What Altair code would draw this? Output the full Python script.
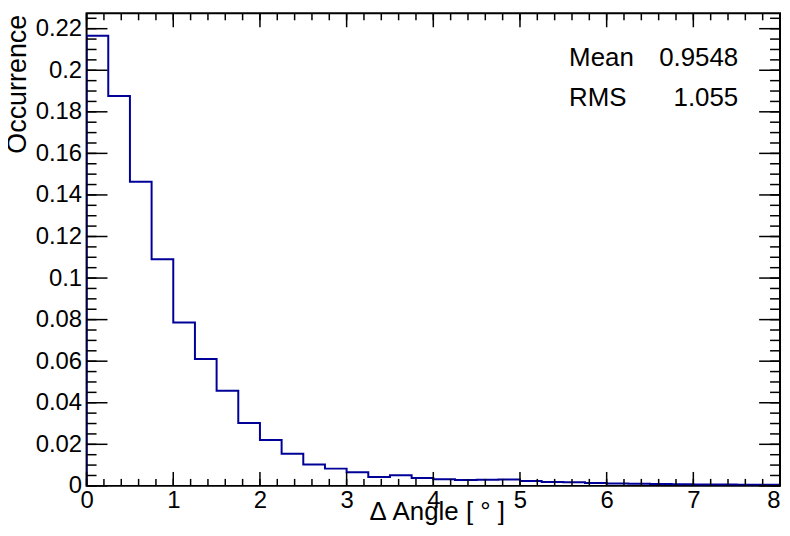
import altair as alt
import pandas as pd

# ---- data ----
bin_width = 0.25
bin_edges = [i * bin_width for i in range(33)]
bin_values = [0.2166, 0.1876, 0.1463, 0.1091, 0.0786, 0.0611, 0.0458, 0.0302,
              0.0221, 0.0155, 0.0103, 0.0083, 0.0066, 0.0043, 0.0051, 0.0038,
              0.0032, 0.0028, 0.0030, 0.0031, 0.0023, 0.0019, 0.0018, 0.0014,
              0.0011, 0.0010, 0.0009, 0.0008, 0.0007, 0.0007, 0.0006, 0.0006]
x_ticks_major = [0, 1, 2, 3, 4, 5, 6, 7, 8]
x_ticks_minor = [round(i * 0.2, 3) for i in range(41)]
y_ticks_major = [0, 0.02, 0.04, 0.06, 0.08, 0.1, 0.12, 0.14, 0.16, 0.18, 0.2, 0.22]
y_ticks_minor = [round(i * 0.005, 4) for i in range(46)]
stat_names = ["Mean", "RMS"]
stat_values = ["0.9548", "1.055"]
x_title = "Δ Angle [ ° ]"
y_title = "Occurrence"

# ---- build step outline ----
xs = [bin_edges[0]] + bin_edges[:-1] + [bin_edges[-1], bin_edges[-1]]
ys = [0] + bin_values + [bin_values[-1], 0]
hist_df = pd.DataFrame({"x": xs, "y": ys, "i": list(range(len(xs)))})

W, H = 697, 475
FONT = "Liberation Sans"
xscale = alt.Scale(domain=[0, 8], nice=False, zero=False)
yscale = alt.Scale(domain=[0, 0.2274], nice=False, zero=False)

x_axis = alt.Axis(values=x_ticks_major, format="d", title=x_title,
                  titleX=352, titleY=34, titleAlign="center",
                  titleBaseline="alphabetic", titleFontSize=26,
                  titleFontWeight="normal", titleFont=FONT,
                  labelFontSize=24, labelPadding=3, labelFont=FONT,
                  labelFlush=False,
                  labelAlign={"condition": {"test": "datum.value == 8", "value": "right"},
                              "value": "center"})
y_axis = alt.Axis(values=y_ticks_major, format="~g", title=y_title,
                  titleX=-69, titleY=1, titleAngle=270,
                  titleAlign="right", titleBaseline="middle",
                  titleFontSize=27, titleFontWeight="normal",
                  titleFont=FONT, labelFontSize=24, labelPadding=5,
                  labelFont=FONT, labelFlush=False)

hist = alt.Chart(hist_df).mark_line(
    interpolate="step-after", color="#000099", strokeWidth=2, clip=True
).encode(
    x=alt.X("x:Q", scale=xscale, axis=x_axis),
    y=alt.Y("y:Q", scale=yscale, axis=y_axis),
    order="i:Q",
)

def vrules(vals, y1, y2):
    df = pd.DataFrame({"x": vals})
    return alt.Chart(df).mark_rule(color="black", strokeWidth=1.5).encode(
        x=alt.X("x:Q", scale=xscale, axis=x_axis),
        y=alt.value(y1), y2=alt.value(y2))

def hrules(vals, x1, x2):
    df = pd.DataFrame({"y": vals})
    return alt.Chart(df).mark_rule(color="black", strokeWidth=1.5).encode(
        y=alt.Y("y:Q", scale=yscale, axis=y_axis),
        x=alt.value(x1), x2=alt.value(x2))

XMAJ, XMIN = 14, 7
YMAJ, YMIN = 21, 10
ticks = [
    vrules(x_ticks_major, H, H - XMAJ), vrules(x_ticks_minor, H, H - XMIN),
    vrules(x_ticks_major, 0, XMAJ), vrules(x_ticks_minor, 0, XMIN),
    hrules(y_ticks_major, 0, YMAJ), hrules(y_ticks_minor, 0, YMIN),
    hrules(y_ticks_major, W, W - YMAJ), hrules(y_ticks_minor, W, W - YMIN),
]

stats = []
for k, (nm, val) in enumerate(zip(stat_names, stat_values)):
    df = pd.DataFrame({"name": [nm], "val": [val]})
    ypos = 45 + 40 * k
    stats.append(alt.Chart(df).mark_text(align="left", baseline="middle",
                                         fontSize=26, font=FONT, color="black").encode(
        x=alt.value(485), y=alt.value(ypos), text="name:N"))
    stats.append(alt.Chart(df).mark_text(align="right", baseline="middle",
                                         fontSize=26, font=FONT, color="black").encode(
        x=alt.value(655), y=alt.value(ypos), text="val:N"))

chart = alt.layer(hist, *ticks, *stats).properties(
    width=W, height=H,
    autosize=alt.AutoSizeParams(type="none"),
    padding={"left": 79, "top": 4, "right": 2, "bottom": 40},
    background="white",
).configure_view(
    stroke="black", strokeWidth=2
).configure_axis(
    domain=False, ticks=False, tickSize=0, grid=False,
    labelColor="black", titleColor="black",
)

chart.save("out.html", embed_options={"renderer": "svg", "actions": False})
